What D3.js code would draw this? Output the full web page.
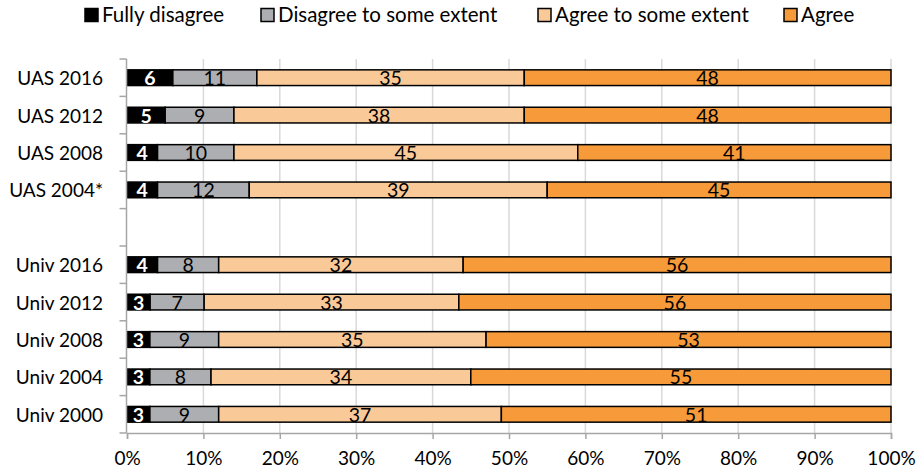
<!DOCTYPE html>
<html>
<head>
<meta charset="utf-8">
<script src="https://cdn.jsdelivr.net/npm/d3@7/dist/d3.min.js"></script>
<style>
  html, body { margin: 0; padding: 0; background: #fff; }
  svg text { font-family: Lato, "Noto Sans", sans-serif; }
</style>
</head>
<body>
<svg id="chart" width="916" height="469"></svg>
<script>
// ---- data ----
const categories = ["UAS 2016", "UAS 2012", "UAS 2008", "UAS 2004*", "",
                    "Univ 2016", "Univ 2012", "Univ 2008", "Univ 2004", "Univ 2000"];
const fullyDisagree   = [6, 5, 4, 4, null, 4, 3, 3, 3, 3];
const disagreeSome    = [11, 9, 10, 12, null, 8, 7, 9, 8, 9];
const agreeSome       = [35, 38, 45, 39, null, 32, 33, 35, 34, 37];
const agree           = [48, 48, 41, 45, null, 56, 56, 53, 55, 51];
const seriesNames = ["Fully disagree", "Disagree to some extent", "Agree to some extent", "Agree"];
const tickValues = [0, 0.1, 0.2, 0.3, 0.4, 0.5, 0.6, 0.7, 0.8, 0.9, 1.0];

(function () {
// ---- styles ----
const colors = ["#000000", "#ACAEB1", "#FAC998", "#F79A3A"];
const labelColors = ["#ffffff", "#000000", "#000000", "#000000"];
const labelWeights = ["bold", "normal", "normal", "normal"];

const svg = d3.select("#chart");
const pL = 127, pR = 891, pT = 59, pB = 433;

const series = [fullyDisagree, disagreeSome, agreeSome, agree];
const keys = categories.map((c, i) => "k" + i);

const x = d3.scaleLinear().domain([0, 1]).range([pL, pR]);
const y = d3.scaleBand().domain(keys).range([pT, pB]).paddingInner(0.58).paddingOuter(0.29);

// gridlines
svg.append("g")
  .selectAll("line").data(tickValues.slice(1)).join("line")
  .attr("x1", d => x(d)).attr("x2", d => x(d))
  .attr("y1", pT).attr("y2", pB)
  .attr("stroke", "#D9D9D9").attr("stroke-width", 1.5);

// rows
const rows = categories.map((c, i) => {
  const vals = series.map(s => s[i]);
  if (vals[0] == null) return null;
  const total = d3.sum(vals);
  let acc = 0;
  return vals.map((v, j) => {
    const x0 = acc / total; acc += v; const x1 = acc / total;
    return { key: keys[i], v, j, x0, x1 };
  });
}).filter(r => r);

const segs = rows.flat();
const g = svg.append("g");
g.selectAll("rect").data(segs).join("rect")
  .attr("x", d => x(d.x0)).attr("width", d => x(d.x1) - x(d.x0))
  .attr("y", d => y(d.key)).attr("height", y.bandwidth())
  .attr("fill", d => colors[d.j])
  .attr("stroke", "#000").attr("stroke-width", 1.5);

g.selectAll("text").data(segs).join("text")
  .attr("x", d => (x(d.x0) + x(d.x1)) / 2)
  .attr("y", d => y(d.key) + y.bandwidth() / 2 + 7.5)
  .attr("text-anchor", "middle")
  .attr("font-size", 19.5)
  .attr("font-weight", d => labelWeights[d.j])
  .attr("fill", d => labelColors[d.j])
  .text(d => d.v);

// y axis
const ya = svg.append("g").attr("transform", `translate(${pL - 0.5},0)`);
ya.append("line").attr("x1", 0).attr("x2", 0).attr("y1", pT).attr("y2", pB).attr("stroke", "#A6A6A6").attr("stroke-width", 1.5);
const boundaries = d3.range(categories.length + 1).map(i => pT + i * (pB - pT) / categories.length);
ya.selectAll("line.tk").data(boundaries).join("line").attr("class", "tk")
  .attr("x1", -7).attr("x2", 0).attr("y1", d => d).attr("y2", d => d)
  .attr("stroke", "#A6A6A6").attr("stroke-width", 1.5);
ya.selectAll("text").data(categories).join("text")
  .attr("x", 103 - (pL - 0.5))
  .attr("y", (d, i) => y(keys[i]) + y.bandwidth() / 2 + 7.5)
  .attr("text-anchor", "end")
  .attr("font-size", 19)
  .attr("fill", "#000")
  .text(d => d);

// x axis
const xAxis = d3.axisBottom(x).tickValues(tickValues).tickSize(6).tickFormat(d3.format(".0%"));
const xa = svg.append("g").attr("transform", `translate(0,${pB})`).call(xAxis);
xa.select(".domain").attr("stroke", "#A6A6A6").attr("stroke-width", 1.5);
xa.selectAll(".tick line").attr("stroke", "#A6A6A6").attr("stroke-width", 1.5);
xa.selectAll(".tick text").attr("font-size", 19).attr("fill", "#000")
  .attr("font-family", "Lato, 'Noto Sans', sans-serif").attr("y", 19).attr("dy", "0.71em");

// legend
const legendX = [85, 261, 538, 784];
const lg = svg.append("g");
seriesNames.forEach((name, j) => {
  lg.append("rect").attr("x", legendX[j]).attr("y", 8.5).attr("width", 13).attr("height", 13)
    .attr("fill", colors[j]).attr("stroke", "#000").attr("stroke-width", 1.5);
  lg.append("text").attr("x", legendX[j] + 17).attr("y", 21.5)
    .attr("font-size", 20.5).attr("fill", "#000").text(name);
});
})();
</script>
</body>
</html>
